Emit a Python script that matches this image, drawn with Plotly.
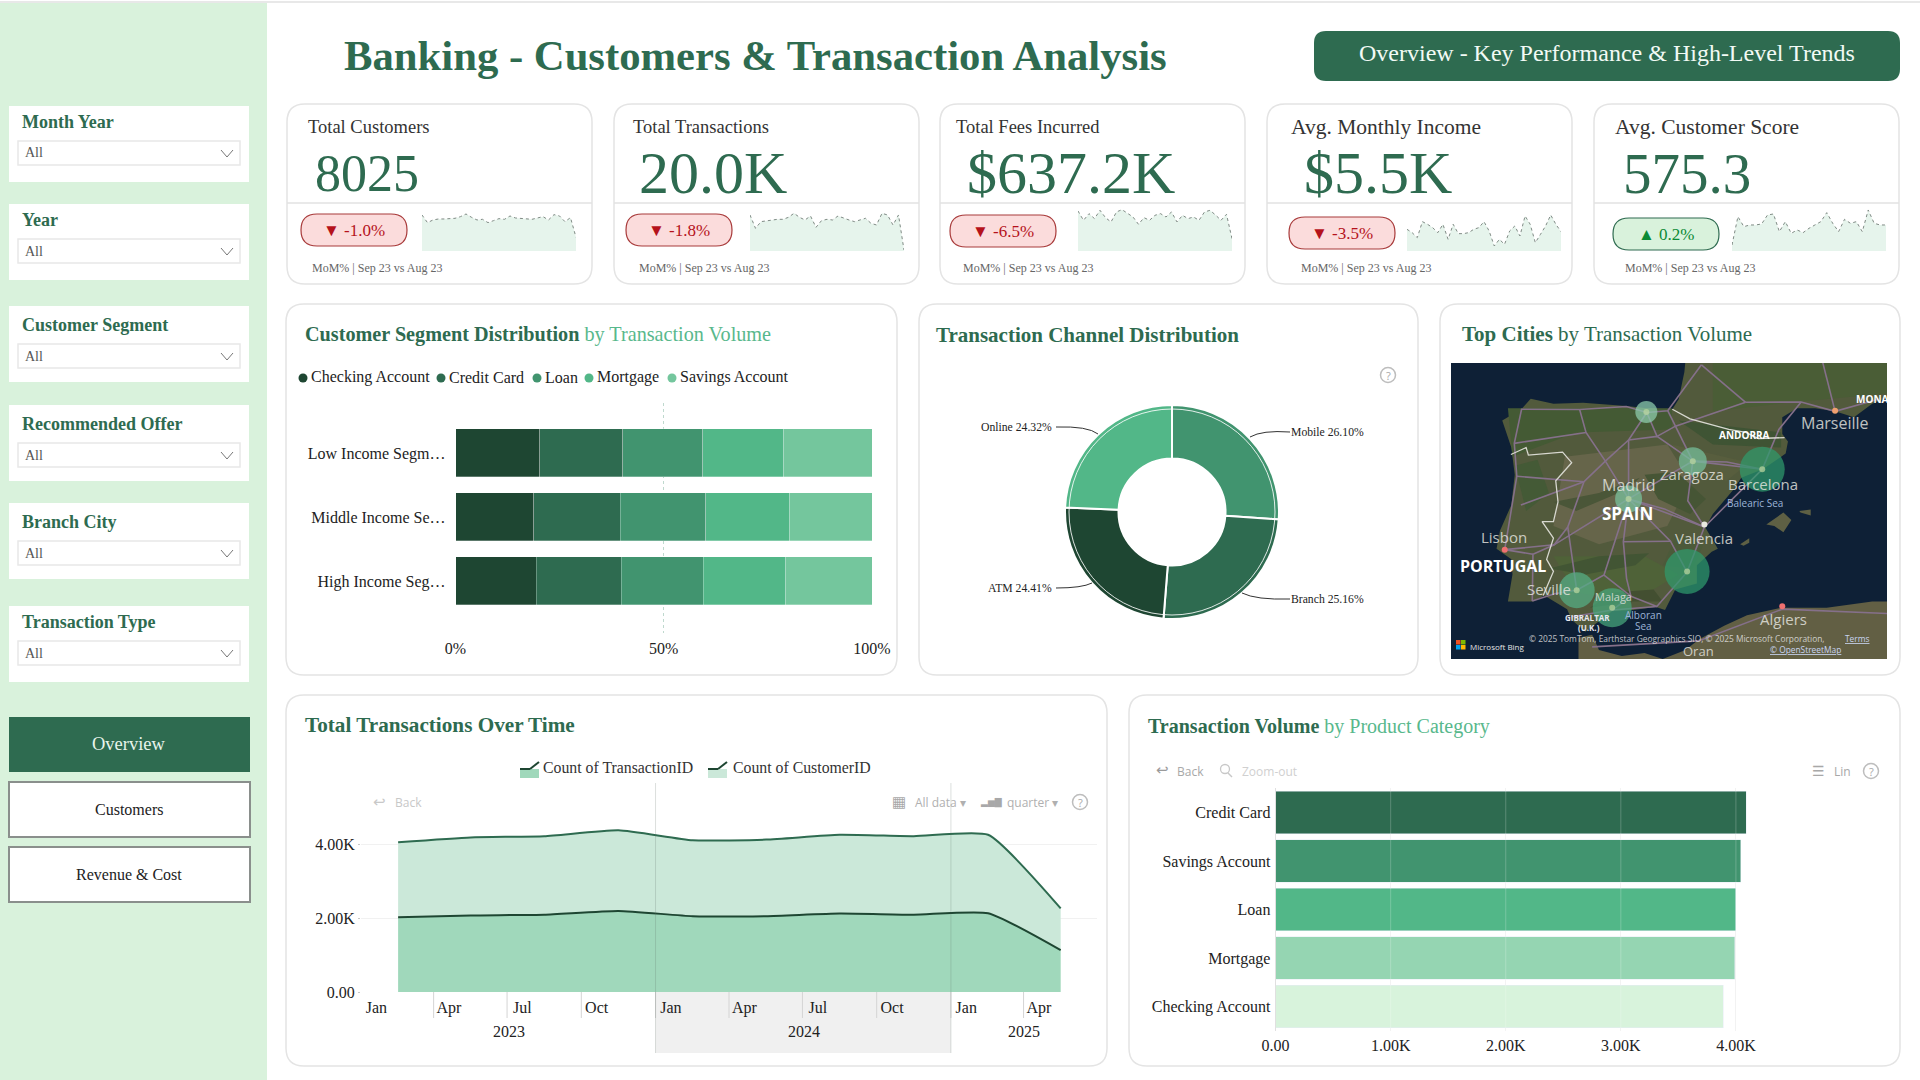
"""Banking customers and transactions dashboard, drawn as one Plotly figure."""

import pandas as pd
import plotly.graph_objects as go

W, H = 1920, 1080
SERIF = "Liberation Serif"
SANS = "Open Sans"

GREEN = "#2E6B50"
LIGHT_GREEN = "#58B88C"
SIDEBAR = "#D9F2DC"
BORDER = "#E4E4E4"
TEXT = "#222222"
SHADES = ["#1E4632", "#2E6B50", "#41946F", "#52B788", "#74C69D"]
PRODUCT_SHADES = ["#2E6B50", "#41946F", "#52B788", "#95D5B2", "#D8F3DC"]

# --- data -----------------------------------------------------------------
filter_names = ["Month Year", "Year", "Customer Segment", "Recommended Offer", "Branch City", "Transaction Type"]
nav_names = ["Overview", "Customers", "Revenue & Cost"]

kpi_titles = ["Total Customers", "Total Transactions", "Total Fees Incurred", "Avg. Monthly Income", "Avg. Customer Score"]
kpi_values = ["8025", "20.0K", "$637.2K", "$5.5K", "575.3"]
kpi_deltas = [-1.0, -1.8, -6.5, -3.5, 0.2]
kpi_note = "MoM% | Sep 23 vs Aug 23"

spark_customers = [108, 85, 93, 96, 96, 97, 98, 103, 111, 101, 93, 95, 85, 91, 97, 95, 105, 99, 98, 97, 95, 99, 103, 93, 109, 105, 88, 100, 41]
spark_transactions = [108, 68, 88, 91, 93, 95, 95, 101, 113, 101, 93, 105, 71, 91, 95, 93, 105, 98, 93, 88, 93, 98, 83, 78, 113, 108, 78, 108, 3]
spark_fees = [120, 92, 112, 97, 122, 100, 87, 117, 124, 112, 102, 80, 100, 92, 107, 112, 102, 117, 87, 107, 97, 102, 92, 117, 122, 108, 92, 110, 37]
spark_income = [65, 55, 40, 88, 80, 70, 55, 80, 35, 80, 52, 52, 55, 65, 70, 88, 60, 15, 35, 20, 60, 75, 45, 105, 80, 25, 50, 75, 108, 80, 58]
spark_score = [18, 103, 73, 78, 78, 81, 108, 111, 58, 88, 53, 63, 55, 68, 78, 88, 115, 83, 58, 95, 83, 88, 58, 123, 83, 78, 78]

segments = ["Low Income Segm…", "Middle Income Se…", "High Income Seg…"]
accounts = ["Checking Account", "Credit Card", "Loan", "Mortgage", "Savings Account"]
account_share = {
    "Checking Account": [20.2, 18.8, 19.4],
    "Credit Card": [20.0, 20.7, 20.4],
    "Loan": [19.2, 20.6, 19.7],
    "Mortgage": [19.4, 20.1, 19.8],
    "Savings Account": [21.2, 19.8, 20.7],
}

channels = ["Mobile", "Branch", "ATM", "Online"]
channel_share = [26.10, 25.16, 24.41, 24.32]

cities = ["Bilbao", "Zaragoza", "Barcelona", "Madrid", "Murcia", "Seville", "Malaga"]
city_lon = [-2.92, -0.88, 2.17, -3.70, -1.13, -5.98, -4.42]
city_lat = [43.28, 41.65, 41.38, 40.40, 38.00, 37.38, 36.80]
city_volume = [1960, 2490, 4000, 2400, 4000, 3200, 3470]

quarter_labels = ["Jan", "Apr", "Jul", "Oct", "Jan", "Apr", "Jul", "Oct", "Jan", "Apr"]
year_labels = ["2023", "2024", "2025"]
transactions_by_quarter = [2020, 2070, 2090, 2190, 2050, 2050, 2120, 2090, 2130, 1130]
customers_by_quarter = [2030, 2110, 2120, 2180, 2050, 2070, 2130, 2120, 2120, 1130]

products = ["Credit Card", "Savings Account", "Loan", "Mortgage", "Checking Account"]
product_volume = [4090, 4040, 4000, 3990, 3890]

# coastlines and borders for the map panel, in lon / lat
iberia_lon = [-1.78, -2.9, -3.8, -5.7, -7.0, -8.0, -8.4, -9.25, -8.85, -8.7, -8.85, -9.35, -9.5, -8.85, -8.8, -9.0, -7.9, -7.4, -6.4, -6.2, -5.6, -5.35, -4.4, -3.5, -2.5, -2.1, -1.65, -0.7, -0.7, -0.05, 0.22, -0.33, 0.0, 0.9, 1.25, 2.2, 3.2, 3.3, 3.05, 3.05, 3.7, 4.5, 5.37, 6.2, 7.0, 7.8, 7.8, -1.2, -1.25, -1.5, -1.78]
iberia_lat = [43.37, 43.4, 43.48, 43.58, 43.55, 43.72, 43.38, 43.0, 42.1, 41.2, 40.2, 39.35, 38.75, 38.4, 37.9, 37.0, 37.0, 37.2, 36.75, 36.4, 36.0, 36.15, 36.7, 36.72, 36.82, 36.72, 37.4, 37.6, 38.2, 38.65, 38.75, 39.45, 39.9, 40.7, 41.1, 41.38, 41.9, 42.3, 42.55, 43.1, 43.4, 43.4, 43.3, 43.1, 43.55, 43.8, 45.0, 45.0, 44.6, 43.7, 43.37]
africa_lon = [-5.9, -5.9, -5.3, -5.0, -4.0, -3.0, -2.2, -1.2, -0.6, 0.5, 1.5, 3.0, 5.0, 7.0, 7.8, 7.8, -5.9]
africa_lat = [35.0, 35.8, 35.9, 35.4, 35.2, 35.3, 35.1, 35.4, 35.75, 36.2, 36.55, 36.8, 36.8, 37.0, 37.0, 35.0, 35.0]
mallorca_lon = [2.35, 3.1, 3.45, 3.1, 2.7, 2.35, None, 3.8, 4.3, 4.3, 3.85, 3.8, None, 1.2, 1.6, 1.6, 1.35, 1.2]
mallorca_lat = [39.55, 39.95, 39.7, 39.3, 39.5, 39.55, None, 40.0, 40.05, 39.85, 39.95, 40.0, None, 38.9, 39.1, 38.95, 38.85, 38.9]
patches = [
    ("#445A34", [-9.0, -1.8, -1.8, -6.0, -8.8], [43.4, 43.4, 42.7, 42.6, 41.8]),
    ("#66654A", [-6.5, -2.0, -1.0, -2.0, -5.0, -7.0], [41.8, 42.2, 41.0, 39.5, 38.9, 39.5]),
    ("#4F6238", [-7.0, -3.0, -1.5, -3.5, -6.0], [38.5, 38.5, 37.9, 37.0, 37.3]),
    ("#3F5434", [-1.5, 3.0, 3.0, 0.0], [43.0, 42.6, 42.1, 42.2]),
    ("#4A5D36", [0.0, 7.8, 7.8, 3.5, 0.0], [45.0, 45.0, 43.9, 43.6, 43.3]),
    ("#4A5638", [-7.0, -5.0, -3.2, -3.8, -6.0], [40.3, 40.6, 41.1, 40.7, 40.0]),
    ("#465535", [-3.0, -1.6, -0.3, -1.0, -2.4], [41.2, 41.3, 40.4, 39.9, 40.4]),
    ("#425534", [-7.2, -5.0, -2.8, -3.4, -5.6], [38.1, 38.5, 38.6, 38.2, 37.9]),
    ("#434F31", [-5.4, -3.6, -2.2, -2.6, -4.4], [36.8, 37.0, 37.0, 37.4, 37.3]),
    ("#445A36", [-8.7, -7.7, -7.2, -8.2], [41.5, 41.7, 40.6, 40.0]),
    ("#585E3E", [-1.8, 0.4, 1.6, 0.6, -0.8], [42.2, 41.8, 41.6, 41.0, 41.3]),
    ("#4C5A3A", [-1.6, -0.4, -0.9, -2.2], [39.2, 38.9, 38.1, 38.2]),
]
borders_lon = [-8.87, -8.2, -8.1, -6.6, -6.2, -6.9, -6.8, -7.0, -7.5, -7.0, -7.3, -7.0, -7.45, None, -1.78, -1.0, 0.7, 1.45, 2.0, 3.15]
borders_lat = [41.87, 42.1, 41.85, 41.95, 41.6, 41.0, 40.3, 39.65, 39.65, 39.1, 38.4, 38.0, 37.2, None, 43.37, 43.05, 42.7, 42.6, 42.4, 42.43]
towns = {
    "mad": (-3.7, 40.4), "bil": (-2.9, 43.26), "bur": (-3.7, 42.35), "zar": (-0.88, 41.65), "bcn": (2.17, 41.38),
    "val": (-0.37, 39.47), "mur": (-1.13, 37.98), "alm": (-2.46, 36.84), "mal": (-4.42, 36.72), "cad": (-6.2, 36.5),
    "cor": (-4.78, 37.88), "sev": (-5.98, 37.38), "hue": (-6.95, 37.26), "far": (-7.93, 37.02), "gra": (-3.6, 37.18),
    "bad": (-6.97, 38.88), "lis": (-9.14, 38.72), "por": (-8.61, 41.15), "vig": (-8.72, 42.24), "cru": (-8.4, 43.37),
    "ovi": (-5.85, 43.36), "san": (-3.8, 43.46), "ssb": (-1.98, 43.32), "bdx": (-0.5, 44.84), "vll": (-4.72, 41.65),
    "leo": (-5.57, 42.6), "sal": (-5.66, 40.97), "cac": (-6.37, 39.47), "pam": (-1.64, 42.81), "tou": (1.44, 43.6),
    "mon": (3.88, 43.61), "mrs": (5.37, 43.3), "per": (2.9, 42.7), "nic": (7.27, 43.7), "lyo": (4.8, 45.0),
    "alb": (-1.86, 39.0), "ora": (-0.63, 35.7), "alg": (3.05, 36.75), "con": (7.8, 36.6), "tet": (-5.3, 35.5),
    "cue": (-2.13, 40.07), "ter": (-1.1, 40.34), "log": (-2.45, 42.47), "our": (-7.86, 42.34), "lle": (0.62, 41.62),
    "jae": (-3.79, 37.77), "cre": (-3.93, 38.98), "evo": (-7.9, 38.57), "coi": (-8.43, 40.2),
}
roads = [
    "mad bur bil", "mad zar bcn", "mad val", "val bcn", "val mur alm mal cad", "mad cor sev hue far", "cor gra mal",
    "mad bad lis", "lis por vig cru ovi san bil ssb bdx", "mad vll leo ovi", "vll sal cac sev", "zar pam ssb",
    "tou mon mrs nic", "bcn per mon", "tou bdx", "lyo mrs", "mad alb mur", "tet ora alg con", "por sal", "bur vll",
    "mad cue val", "zar ter val", "bur log zar", "vig our leo", "zar lle bcn", "mad cre jae gra", "cac bad evo far",
    "coi sal", "lis evo", "log pam tou", "alb cre", "gra alm", "bil log",
]

shapes = []
notes = []


def fx(px):
    return px / W


def fy(py):
    return 1 - py / H


def add_text(x, y, text, size, color=TEXT, anchor="left", family=SERIF):
    notes.append(dict(
        x=fx(x), y=fy(y), xref="paper", yref="paper", text=text, showarrow=False,
        xanchor=anchor, yanchor="middle", font=dict(family=family, size=size, color=color),
    ))


def round_rect(x0, y0, x1, y1, r, fill, line=None, width=1, layer="below"):
    a0, a1, b0, b1 = fx(x0), fx(x1), fy(y0), fy(y1)
    ax, ay = r / W, r / H
    path = (
        f"M{a0 + ax},{b0} L{a1 - ax},{b0} Q{a1},{b0} {a1},{b0 - ay} L{a1},{b1 + ay} Q{a1},{b1} {a1 - ax},{b1} "
        f"L{a0 + ax},{b1} Q{a0},{b1} {a0},{b1 + ay} L{a0},{b0 - ay} Q{a0},{b0} {a0 + ax},{b0} Z"
    )
    shapes.append(dict(
        type="path", path=path, xref="paper", yref="paper", fillcolor=fill, layer=layer,
        line=dict(color=line or fill, width=width if line else 0),
    ))


def rect(x0, y0, x1, y1, fill, line=None, width=1, layer="below"):
    shapes.append(dict(
        type="rect", xref="paper", yref="paper", x0=fx(x0), x1=fx(x1), y0=fy(y0), y1=fy(y1),
        fillcolor=fill, layer=layer, line=dict(color=line or fill, width=width if line else 0),
    ))


def seg(x0, y0, x1, y1, color, width=1, layer="below"):
    shapes.append(dict(
        type="line", xref="paper", yref="paper", x0=fx(x0), x1=fx(x1), y0=fy(y0), y1=fy(y1),
        layer=layer, line=dict(color=color, width=width),
    ))


def circle(cx, cy, r, fill="rgba(0,0,0,0)", line=None, width=1, layer="above"):
    shapes.append(dict(
        type="circle", xref="paper", yref="paper", x0=fx(cx - r), x1=fx(cx + r), y0=fy(cy - r), y1=fy(cy + r),
        fillcolor=fill, layer=layer, line=dict(color=line or fill, width=width if line else 0),
    ))


def leader(points, color="#333333"):
    (x0, y0), (cx, cy), (x1, y1) = points
    shapes.append(dict(
        type="path", xref="paper", yref="paper", layer="above", line=dict(color=color, width=1),
        path=f"M{fx(x0)},{fy(y0)} Q{fx(cx)},{fy(cy)} {fx(x1)},{fy(y1)}",
    ))


def help_icon(cx, cy):
    circle(cx, cy, 7.5, line="#BDBDBD", width=1.5)
    add_text(cx, cy, "?", 11, "#A8A8A8", "center", SANS)


def card(x0, y0, x1, y1):
    round_rect(x0, y0, x1, y1, 18, "#FFFFFF", BORDER, 1.5)


fig = go.Figure()
layout_axes = {}


def axes(n, x0, x1, y0, y1, xaxis, yaxis):
    suffix = "" if n == 1 else str(n)
    layout_axes[f"xaxis{suffix}"] = dict(domain=[fx(x0), fx(x1)], anchor=f"y{suffix}", **xaxis)
    layout_axes[f"yaxis{suffix}"] = dict(domain=[fy(y1), fy(y0)], anchor=f"x{suffix}", **yaxis)
    return f"x{suffix}", f"y{suffix}"


# --- page frame and sidebar ------------------------------------------------
seg(0, 2, W, 2, "#E8E8E8", 2)
rect(0, 3, 267, H, SIDEBAR)

filter_tops = [106, 204, 306, 405, 503, 606]
filter_drop = [0, 0, 3, 3, 3, 0]
for name, top, drop in zip(filter_names, filter_tops, filter_drop):
    rect(9, top, 249, top + 76, "#FFFFFF")
    add_text(20, top + 16 + drop, f"<b>{name}</b>", 18, GREEN)
    rect(18, top + 35 + drop, 240, top + 59 + drop, "#FFFFFF", "#E8E8E8", 1.5)
    add_text(23, top + 47 + drop, "All", 14, "#555555")
    seg(221, top + 44 + drop, 227, top + 51 + drop, "#777777")
    seg(227, top + 51 + drop, 233, top + 44 + drop, "#777777")

nav_tops = [717, 782, 847]
for i, (name, top) in enumerate(zip(nav_names, nav_tops)):
    if i == 0:
        rect(9, top, 250, top + 55, GREEN)
        add_text(129, top + 27, name, 18.5, "#E8F5EC", "center")
    else:
        rect(9, top, 250, top + 55, "#FFFFFF", "#8A8F8C", 2)
        add_text(129, top + 27, name.replace("&", "&amp;"), 16, TEXT, "center")

# --- header ----------------------------------------------------------------
add_text(342, 55, "<b>Banking - Customers &amp; Transaction Analysis</b>", 42.7, GREEN)
round_rect(1314, 31, 1900, 81, 12, GREEN)
add_text(1607, 53, "Overview - Key Performance &amp; High-Level Trends", 24, "#F2FAF5", "center")

# --- KPI cards -------------------------------------------------------------
card_left = [287, 614, 940, 1267, 1594]
title_x = [306, 631, 954, 1289, 1613]
title_size = [18.5, 18.5, 18.5, 21.5, 21.5]
value_x = [313, 637, 965, 1302, 1621]
value_size = [52, 60, 60, 60, 57]
badge_x = [301, 626, 950, 1289, 1613]
badge_y = [214, 214, 215, 217, 218]
spark_x = [422, 750, 1078, 1407, 1732]
note_x = [310, 637, 961, 1299, 1623]
sparks = [spark_customers, spark_transactions, spark_fees, spark_income, spark_score]
for i in range(5):
    left = card_left[i]
    card(left, 104, left + 305, 284)
    seg(left, 203, left + 305, 203, "#E2E2E2", 1.5)
    add_text(title_x[i], 127, kpi_titles[i], title_size[i], "#333333")
    add_text(value_x[i], 173, kpi_values[i], value_size[i], GREEN)

    delta = kpi_deltas[i]
    up = delta > 0
    round_rect(badge_x[i], badge_y[i], badge_x[i] + 106, badge_y[i] + 32, 16,
               "#D9F2DC" if up else "#FBDCDC", "#2E6B50" if up else "#A83A3A", 1.2)
    label = f"▲ {delta:.1f}%" if up else f"▼ {delta:.1f}%"
    add_text(badge_x[i] + 53, badge_y[i] + 16, label, 17, "#0B8A35" if up else "#B5121B", "center")

    xa, ya = axes(5 + i, spark_x[i], spark_x[i] + 154, 208.3, 251,
                  dict(visible=False, range=[0, len(sparks[i]) - 1]),
                  dict(visible=False, range=[0, 128]))
    fig.add_trace(go.Scatter(
        x=list(range(len(sparks[i]))), y=sparks[i], xaxis=xa, yaxis=ya, mode="lines", fill="tozeroy",
        fillcolor="#E6F4EC", line=dict(color="#7F8A84", width=1, dash="dot"), showlegend=False, hoverinfo="skip",
    ))
    add_text(note_x[i], 268, kpi_note, 12, "#666666")

# --- customer segment distribution ------------------------------------------
card(286, 304, 897, 675)
add_text(303, 334, f'<b>Customer Segment Distribution</b> <span style="color:{LIGHT_GREEN}">by Transaction Volume</span>', 20.2, GREEN)
legend_dots = [303, 441, 537, 589, 672]
for name, dot, shade in zip(accounts, legend_dots, SHADES):
    circle(dot, 378, 4.5, shade)
    add_text(dot + 6, 377, name, 16, TEXT)

xa, ya = axes(
    1, 455.5, 872, 403, 633,
    dict(range=[0, 100], tickvals=[0, 50, 100], ticktext=["0%", "50%", "100%"], showgrid=True,
         griddash="dot", gridcolor="#BFD9CE", gridwidth=1, zeroline=False, side="bottom",
         tickfont=dict(size=16, color=TEXT), ticks="", ticklabelstandoff=4),
    dict(range=[2.8125, -0.78], tickvals=[0, 1, 2], ticktext=segments, showgrid=False, zeroline=False,
         tickfont=dict(size=16, color=TEXT), ticks="", ticklabelstandoff=9),
)
for name, shade in zip(accounts, SHADES):
    fig.add_trace(go.Bar(
        x=account_share[name], y=[0, 1, 2], orientation="h", xaxis=xa, yaxis=ya, name=name, width=0.75,
        marker=dict(color=shade, line=dict(color="rgba(255,255,255,0.35)", width=0.8)), showlegend=False,
    ))

# --- transaction channels ---------------------------------------------------
card(919, 304, 1418, 675)
add_text(934, 335, "<b>Transaction Channel Distribution</b>", 21, GREEN)
help_icon(1388, 375)
fig.add_trace(go.Pie(
    labels=channels, values=channel_share, hole=0.5, sort=False, direction="clockwise", rotation=0,
    domain=dict(x=[fx(1065), fx(1279)], y=[fy(619), fy(405)]), textinfo="none", showlegend=False,
    marker=dict(colors=[SHADES[2], SHADES[1], SHADES[0], SHADES[3]], line=dict(color="#FFFFFF", width=2)),
))
circle(1172, 512, 103, line="rgba(255,255,255,0.85)", width=1)
channel_labels = [f"{c} {s:.2f}%" for c, s in zip(channels, channel_share)]
add_text(1289, 432, channel_labels[0], 11.7, TEXT)
add_text(1289, 599, channel_labels[1], 11.7, TEXT)
add_text(1054, 588, channel_labels[2], 11.7, TEXT, "right")
add_text(1054, 427, channel_labels[3], 11.7, TEXT, "right")
leader([(1290, 432), (1262, 430), (1250, 437)])
leader([(1290, 599), (1256, 600), (1242, 593)])
leader([(1056, 588), (1082, 588), (1092, 583)])
leader([(1056, 427), (1088, 426), (1098, 434)])

# --- top cities map ---------------------------------------------------------
card(1440, 304, 1900, 675)
add_text(1460, 334, "<b>Top Cities</b> by Transaction Volume", 21, GREEN)
rect(1451, 363, 1887, 659, "#0E2036")
xa, ya = axes(4, 1451, 1887, 363, 659,
              dict(visible=False, range=[-11.5, 7.65]),
              dict(visible=False, range=[35.1, 44.9]))


def land(lon, lat, color):
    fig.add_trace(go.Scatter(x=lon, y=lat, xaxis=xa, yaxis=ya, mode="lines", fill="toself", fillcolor=color,
                             line=dict(width=0, color=color), showlegend=False, hoverinfo="skip"))


land(iberia_lon, iberia_lat, "#525A3C")
land(africa_lon, africa_lat, "#625F44")
land(mallorca_lon, mallorca_lat, "#5E6044")
for color, lon, lat in patches:
    land(lon, lat, color)

road_lon, road_lat = [], []
for road in roads:
    for stop in road.split():
        road_lon.append(towns[stop][0])
        road_lat.append(towns[stop][1])
    road_lon.append(None)
    road_lat.append(None)
fig.add_trace(go.Scatter(x=road_lon, y=road_lat, xaxis=xa, yaxis=ya, mode="lines",
                         line=dict(color="#85708A", width=1.6), showlegend=False, hoverinfo="skip"))
fig.add_trace(go.Scatter(x=borders_lon, y=borders_lat, xaxis=xa, yaxis=ya, mode="lines",
                         line=dict(color="#D8D8D0", width=1.3), showlegend=False, hoverinfo="skip"))
fig.add_trace(go.Scatter(
    x=city_lon, y=city_lat, xaxis=xa, yaxis=ya, mode="markers", text=cities, showlegend=False,
    marker=dict(size=city_volume, sizemode="diameter", sizeref=4000 / 45, opacity=0.72, color=city_volume,
                colorscale=[[0, "#8FCFAE"], [1, "#2F9A6C"]], line=dict(width=0)),
))
fig.add_trace(go.Scatter(
    x=city_lon, y=city_lat, xaxis=xa, yaxis=ya, mode="markers", showlegend=False, hoverinfo="skip",
    marker=dict(size=6, color="rgba(190,215,160,0.7)"),
))
fig.add_trace(go.Scatter(
    x=[-9.14, 5.37, 3.05, -0.37], y=[38.72, 43.32, 36.85, 39.55], xaxis=xa, yaxis=ya, mode="markers",
    showlegend=False, hoverinfo="skip", marker=dict(size=6, color=["#F07070", "#F0A070", "#F07070", "#E8E8E0"]),
))
map_soft = "rgba(232,232,226,0.82)"
map_labels = [
    (1835, 423, "Marseille", 16, map_soft), (1872, 399, "<b>MONA</b>", 10, "#FFFFFF"),
    (1744, 435, "<b>ANDORRA</b>", 10, "#FFFFFF"), (1692, 474, "Zaragoza", 15, map_soft),
    (1763, 484, "Barcelona", 15, map_soft), (1755, 503, "Balearic Sea", 10, "#9DB4D6"),
    (1628, 485, "Madrid", 16, map_soft), (1627, 514, "<b>SPAIN</b>", 17, "#FFFFFF"),
    (1704, 538, "Valencia", 15, map_soft), (1504, 537, "Lisbon", 15, map_soft),
    (1503, 566, "<b>PORTUGAL</b>", 16, "#FFFFFF"), (1549, 589, "Seville", 15, map_soft),
    (1613, 596, "Malaga", 11, map_soft), (1587, 617, "<b>GIBRALTAR</b>", 8, "#E8E8F0"),
    (1589, 627, "<b>(U.K.)</b>", 8, "#E8E8F0"), (1643, 615, "Alboran", 10, "#9DB4D6"),
    (1643, 626, "Sea", 10, "#9DB4D6"), (1783, 619, "Algiers", 15, map_soft), (1698, 651, "Oran", 13, map_soft),
]
for x, y, label, size, color in map_labels:
    add_text(x, y, label, size, color, "center", SANS)
add_text(1527, 638, "© 2025 TomTom, Earthstar Geographics SIO, © 2025 Microsoft Corporation,", 8.4, "rgba(235,235,235,0.8)", "left", SANS)
add_text(1843, 638, "<u>Terms</u>", 8.4, "#C8D4F0", "left", SANS)
add_text(1768, 649, "<u>© OpenStreetMap</u>", 8.4, "#C8D4F0", "left", SANS)
add_text(1468, 646, "Microsoft Bing", 8, "#E4E4E4", "left", SANS)
for dx, dy, tone in [(0, 0, "#F25022"), (5, 0, "#7FBA00"), (0, 5, "#00A4EF"), (5, 5, "#FFB900")]:
    rect(1456 + dx, 640 + dy, 1460.5 + dx, 644.5 + dy, tone, layer="above")

# --- transactions over time -------------------------------------------------
card(286, 695, 1107, 1066)
add_text(303, 725, "<b>Total Transactions Over Time</b>", 21.2, GREEN)
legend_icons = [(520, "Count of TransactionID", "#A0D8BB", 541), (708, "Count of CustomerID", "#CBE8D9", 731)]
for x, name, tone, text_x in legend_icons:
    rect(x, 769, x + 19, 778, tone)
    seg(x, 769, x + 10, 769, SHADES[0], 2)
    seg(x + 10, 769, x + 19, 762, SHADES[0], 2)
    add_text(text_x, 767, name, 15.8, "#333333")

add_text(379, 802, "↩", 15, "#C8C8C8", "center", "DejaVu Sans")
add_text(393, 802, "Back", 12, "#C8C8C8", "left", SANS)
add_text(899, 802, "▦", 15, "#A8A8A8", "center", "DejaVu Sans")
add_text(913, 802, "All data ▾", 12, "#B0B0B0", "left", SANS)
add_text(991, 802, "▂▅▇", 9, "#A8A8A8", "center", "DejaVu Sans")
add_text(1005, 802, "quarter ▾", 12, "#B0B0B0", "left", SANS)
help_icon(1080, 802)

quarter_starts = pd.date_range("2023-01-01", periods=len(quarter_labels), freq="QS")
quarter_mids = quarter_starts + pd.Timedelta(days=46)
xa, ya = axes(
    2, 361, 1097, 783, 992,
    dict(type="date", range=["2023-01-01", "2025-07-01"], showgrid=False, zeroline=False, ticks="",
         tickvals=quarter_starts + pd.Timedelta(days=19), ticktext=quarter_labels,
         tickfont=dict(size=16, color=TEXT), ticklabelstandoff=4),
    dict(range=[0, 5650], tickvals=[0, 2000, 4000], ticktext=["0.00", "2.00K", "4.00K"], showgrid=True,
         gridcolor="#F1F1F1", zeroline=False, ticks="outside", ticklen=2, tickcolor="#C8C8C8",
         tickfont=dict(size=16, color=TEXT)),
)
shapes.append(dict(type="rect", xref=xa, yref="paper", x0="2024-01-01", x1="2025-01-01", y0=fy(1053), y1=fy(992),
                   fillcolor="#F0F0F0", line=dict(width=0), layer="below"))
for start in quarter_starts[1:]:
    shapes.append(dict(type="line", xref=xa, yref="paper", x0=start, x1=start, y0=fy(1018), y1=fy(992),
                       line=dict(color="#D4D4D4", width=1), layer="below"))
for start in ["2024-01-01", "2025-01-01"]:
    shapes.append(dict(type="line", xref=xa, yref="paper", x0=start, x1=start, y0=fy(1053), y1=fy(783),
                       line=dict(color="rgba(90,110,100,0.22)", width=1), layer="above"))
for label, mid in zip(year_labels, ["2023-07-04", "2024-07-03", "2025-04-01"]):
    notes.append(dict(x=mid, y=fy(1031), xref=xa, yref="paper", text=label, showarrow=False, yanchor="middle",
                      font=dict(family=SERIF, size=16, color=TEXT)))
fig.add_trace(go.Scatter(
    x=quarter_mids, y=transactions_by_quarter, xaxis=xa, yaxis=ya, mode="lines", stackgroup="time",
    name="Count of TransactionID", fillcolor="#A0D8BB", showlegend=False,
    line=dict(color=SHADES[0], width=2, shape="spline", smoothing=0.5),
))
fig.add_trace(go.Scatter(
    x=quarter_mids, y=customers_by_quarter, xaxis=xa, yaxis=ya, mode="lines", stackgroup="time",
    name="Count of CustomerID", fillcolor="#CBE8D9", showlegend=False,
    line=dict(color=SHADES[1], width=2, shape="spline", smoothing=0.5),
))

# --- transaction volume by product -------------------------------------------
card(1129, 695, 1900, 1066)
add_text(1146, 726, f'<b>Transaction Volume</b> <span style="color:{LIGHT_GREEN}">by Product Category</span>', 20, GREEN)
add_text(1162, 770, "↩", 15, "#9A9A9A", "center", "DejaVu Sans")
add_text(1175, 771, "Back", 12, "#A8A8A8", "left", SANS)
circle(1225, 769, 4.5, line="#C8C8C8", width=1.3)
seg(1228, 773, 1232, 777, "#C8C8C8", 1.5, "above")
add_text(1240, 771, "Zoom-out", 12, "#D0D0D0", "left", SANS)
add_text(1818, 771, "☰", 14, "#A8A8A8", "center", "DejaVu Sans")
add_text(1832, 771, "Lin", 12, "#A8A8A8", "left", SANS)
help_icon(1871, 771)

xa, ya = axes(
    3, 1275.6, 1851, 788, 1031,
    dict(range=[0, 5000], tickvals=[0, 1000, 2000, 3000, 4000],
         ticktext=["0.00", "1.00K", "2.00K", "3.00K", "4.00K"], showgrid=True, gridcolor="#F1F1F1",
         zeroline=False, ticks="", tickfont=dict(size=16, color=TEXT), ticklabelstandoff=3),
    dict(range=[4.5, -0.5], tickvals=list(range(len(products))), ticktext=products, showgrid=False,
         zeroline=True, showline=True, linecolor="#E0E0E0", ticks="", tickfont=dict(size=16, color=TEXT),
         ticklabelstandoff=1),
)
fig.add_trace(go.Bar(
    x=product_volume, y=list(range(len(products))), orientation="h", xaxis=xa, yaxis=ya, width=0.875,
    marker=dict(color=PRODUCT_SHADES), showlegend=False,
))
for tick in [1000, 2000, 3000, 4000]:
    shapes.append(dict(type="line", xref=xa, yref="paper", x0=tick, x1=tick, y0=fy(1031), y1=fy(788),
                       line=dict(color="rgba(255,255,255,0.22)", width=1), layer="above"))

fig.update_layout(
    width=W, height=H, margin=dict(l=0, r=0, t=0, b=0, autoexpand=False), autosize=False,
    paper_bgcolor="#FFFFFF", plot_bgcolor="rgba(0,0,0,0)", barmode="stack", showlegend=False,
    font=dict(family=SERIF, size=14, color=TEXT), shapes=shapes, annotations=notes, **layout_axes,
)
fig.write_html(
    "out.html",
    config=dict(displayModeBar=False),
    post_script="document.body.style.margin='0';document.body.style.overflow='hidden';",
)
